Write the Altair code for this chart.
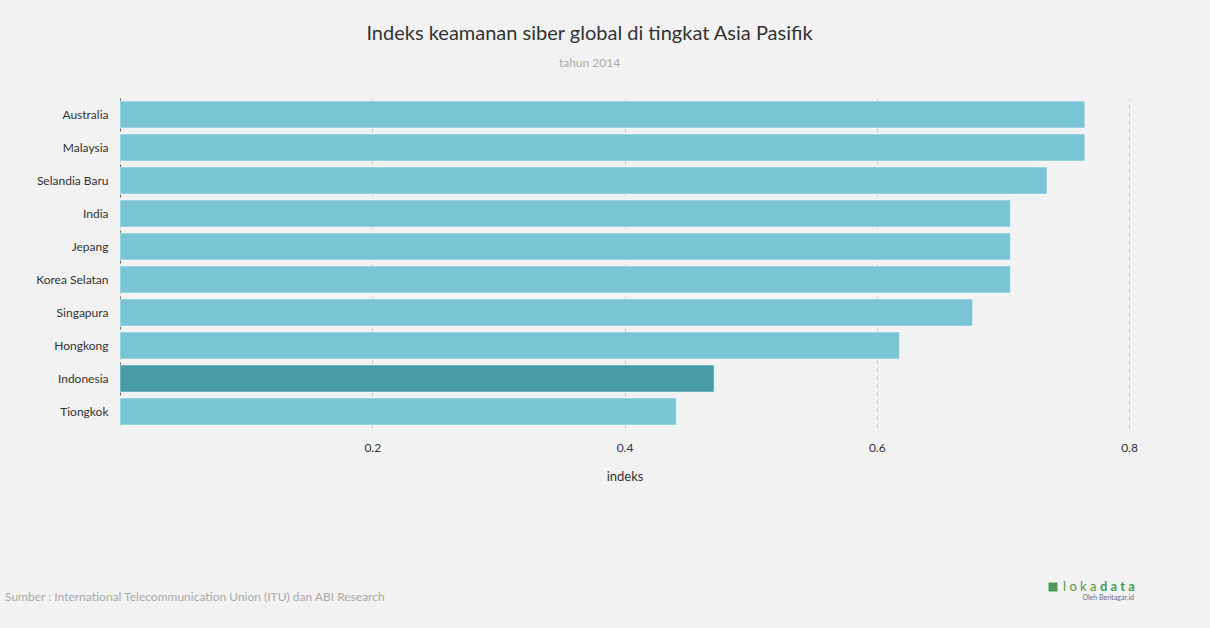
import altair as alt
import pandas as pd

countries = ["Australia", "Malaysia", "Selandia Baru", "India", "Jepang",
             "Korea Selatan", "Singapura", "Hongkong", "Indonesia", "Tiongkok"]
values = [0.765, 0.765, 0.735, 0.706, 0.706, 0.706, 0.676, 0.618, 0.471, 0.441]
highlight = ["no", "no", "no", "no", "no", "no", "no", "no", "yes", "no"]
x_ticks = [0.2, 0.4, 0.6, 0.8]

df = pd.DataFrame({"negara": countries, "indeks": values, "sorot": highlight})

FONT = "Lato"

bars = alt.Chart(df).mark_bar(stroke="white", strokeOpacity=0.45, strokeWidth=1).encode(
    y=alt.Y("negara:N", sort=countries, title=None,
            scale=alt.Scale(paddingInner=0.18, paddingOuter=0.09),
            axis=alt.Axis(ticks=False, domain=True, domainColor="#666666",
                          domainDash=[3, 3], domainWidth=1, labelPadding=12,
                          labelFontSize=12, labelColor="#333333", labelFont=FONT)),
    x=alt.X("indeks:Q", title="indeks",
            scale=alt.Scale(domain=[0, 0.8], nice=False),
            axis=alt.Axis(values=x_ticks, format=".1f", ticks=False, domain=False,
                          grid=True, gridDash=[4, 4], gridColor="#c8c8c8",
                          labelFlush=False,
                          labelPadding=14, labelFontSize=12, labelColor="#333333",
                          labelFont=FONT, titleFont=FONT, titleFontSize=13,
                          titleFontWeight="normal", titleColor="#333333",
                          titlePadding=17)),
    color=alt.Color("sorot:N", legend=None,
                    scale=alt.Scale(domain=["no", "yes"], range=["#7ac5d5", "#479ca8"])),
)

notes = pd.DataFrame({"t": ["Sumber : International Telecommunication Union (ITU) dan ABI Research"]})
source = alt.Chart(notes).mark_text(align="left", baseline="middle", font=FONT,
                                    fontSize=12, color="#aaaaaa").encode(
    text="t:N", x=alt.value(-115), y=alt.value(499))

loka_df = pd.DataFrame({"t": ["l o k a"]})
loka = alt.Chart(loka_df).mark_text(align="left", baseline="middle", font=FONT,
                                    fontSize=13, fontWeight="normal", color="#4a9a55").encode(
    text="t:N", x=alt.value(943), y=alt.value(489))
data_df = pd.DataFrame({"t": ["d a t a"]})
data_t = alt.Chart(data_df).mark_text(align="left", baseline="middle", font=FONT,
                                      fontSize=13, fontWeight="bold", color="#4a9a55").encode(
    text="t:N", x=alt.value(980), y=alt.value(489))
sub_df = pd.DataFrame({"t": ["Oleh Beritagar.id"]})
logo_sub = alt.Chart(sub_df).mark_text(align="right", baseline="middle", font=FONT,
                                       fontSize=7, color="#6a7080").encode(
    text="t:N", x=alt.value(1014), y=alt.value(500))
icon = alt.Chart(loka_df).mark_point(shape="square", filled=True, size=80,
                                     color="#4a9a55", opacity=1).encode(
    x=alt.value(933), y=alt.value(489))

chart = alt.layer(bars, source, icon, loka, data_t, logo_sub).properties(
    width=1009, height=330,
    padding={"left": 120, "top": 98, "right": 81, "bottom": 200},
    autosize=alt.AutoSizeParams(type="none"),
    background="#f2f2f2",
    title=alt.Title("Indeks keamanan siber global di tingkat Asia Pasifik",
                    subtitle="tahun 2014", anchor="middle", dx=-35,
                    font=FONT, fontSize=20, fontWeight="normal", color="#333333",
                    subtitleFont=FONT, subtitleFontSize=12, subtitleColor="#aaaaaa",
                    subtitlePadding=14, offset=29),
).configure_view(stroke=None)

chart.save("out.html", embed_options={"renderer": "svg", "actions": False})
